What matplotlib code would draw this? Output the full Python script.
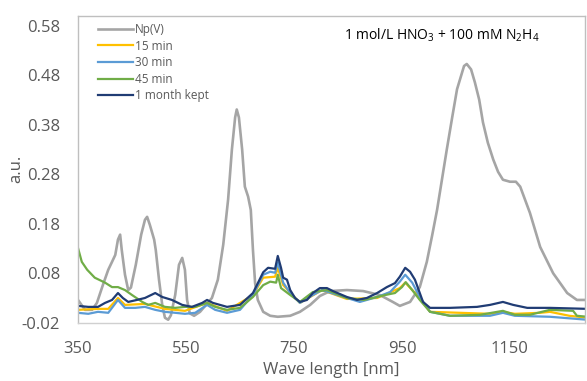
import matplotlib
matplotlib.use("Agg")
import matplotlib.pyplot as plt
from matplotlib.lines import Line2D

# Np(V) reference spectrum
np_wl = [350, 363, 376, 385, 396, 406, 413, 419, 424, 428, 431, 437, 443, 448, 457, 467, 474, 478,
         483, 491, 494, 500, 506, 511, 517, 522, 530, 537, 543, 548, 552, 557, 565, 576, 587, 598,
         609, 619, 628, 635, 641, 644, 648, 654, 659, 665, 670, 674, 678, 683, 693, 706, 720, 743,
         761, 780, 798, 817, 848, 878, 909, 933, 946, 965, 983, 996, 1006, 1015, 1024, 1033, 1043,
         1052, 1065, 1070, 1078, 1085, 1093, 1100, 1109, 1119, 1128, 1137, 1150, 1161, 1169, 1187,
         1206, 1230, 1256, 1274, 1293]
np_abs = [0.026, 0.006, 0.006, 0.020, 0.056, 0.087, 0.103, 0.117, 0.148, 0.158, 0.127, 0.077, 0.046,
          0.051, 0.097, 0.158, 0.188, 0.194, 0.178, 0.148, 0.127, 0.067, 0.016, -0.010, -0.014,
          -0.005, 0.036, 0.097, 0.111, 0.087, 0.026, -0.001, -0.006, 0.002, 0.016, 0.030, 0.067,
          0.138, 0.229, 0.330, 0.395, 0.411, 0.395, 0.330, 0.255, 0.235, 0.208, 0.127, 0.060, 0.026,
          0.002, -0.006, -0.008, -0.006, 0.002, 0.016, 0.034, 0.044, 0.046, 0.044, 0.036, 0.022,
          0.014, 0.022, 0.052, 0.103, 0.157, 0.208, 0.269, 0.330, 0.395, 0.452, 0.499, 0.503, 0.492,
          0.466, 0.431, 0.385, 0.344, 0.310, 0.285, 0.269, 0.265, 0.265, 0.255, 0.202, 0.133, 0.080,
          0.040, 0.026, 0.026]

# 15 min
m15_wl = [350, 387, 406, 424, 437, 474, 511, 548, 589, 626, 674, 693, 715, 720, 730, 761, 802, 848,
          904, 946, 956, 983, 1002, 1113, 1137, 1159, 1206, 1224, 1260, 1293]
m15_abs = [0.006, 0.008, 0.008, 0.030, 0.016, 0.018, 0.008, 0.004, 0.020, 0.004, 0.036, 0.071,
           0.073, 0.091, 0.056, 0.020, 0.046, 0.028, 0.030, 0.050, 0.061, 0.030, 0.002, -0.002,
           0.002, -0.002, 0.000, 0.002, -0.006, -0.010]

# 30 min
m30_wl = [350, 369, 387, 406, 424, 437, 456, 474, 493, 511, 530, 548, 567, 589, 604, 626, 650, 674,
          693, 706, 715, 720, 730, 743, 761, 785, 802, 848, 872, 904, 928, 946, 956, 969, 983, 1002,
          1039, 1113, 1137, 1159, 1224, 1293]
m30_abs = [0.000, -0.002, 0.002, 0.000, 0.026, 0.010, 0.010, 0.012, 0.006, 0.002, 0.000, -0.002,
           0.000, 0.016, 0.006, 0.000, 0.006, 0.036, 0.077, 0.083, 0.081, 0.102, 0.061, 0.040,
           0.020, 0.036, 0.046, 0.030, 0.022, 0.032, 0.042, 0.063, 0.077, 0.061, 0.032, 0.002,
           -0.006, -0.006, 0.000, -0.006, -0.008, -0.014]

# 45 min
m45_wl = [350, 357, 367, 381, 400, 413, 424, 437, 450, 469, 480, 493, 511, 530, 548, 567, 589, 604,
          626, 650, 674, 693, 706, 717, 720, 726, 743, 761, 785, 811, 848, 880, 919, 937, 950, 957,
          969, 983, 1002, 1039, 1095, 1137, 1159, 1187, 1224, 1267, 1274, 1293]
m45_abs = [0.131, 0.103, 0.087, 0.071, 0.061, 0.052, 0.052, 0.046, 0.036, 0.022, 0.016, 0.020,
           0.012, 0.010, 0.012, 0.012, 0.020, 0.012, 0.006, 0.010, 0.032, 0.056, 0.063, 0.061,
           0.077, 0.050, 0.036, 0.022, 0.042, 0.046, 0.030, 0.026, 0.036, 0.040, 0.052, 0.062,
           0.046, 0.026, 0.002, -0.006, -0.004, 0.004, -0.004, -0.004, 0.006, 0.004, -0.006, -0.008]

# 1 month kept
month_wl = [350, 369, 387, 400, 413, 424, 433, 443, 459, 474, 493, 506, 524, 543, 561, 580, 589, 600,
            626, 650, 674, 693, 702, 715, 720, 726, 730, 737, 743, 752, 761, 774, 785, 798, 811, 822,
            848, 867, 885, 904, 922, 937, 946, 956, 965, 974, 983, 989, 1002, 1039, 1089, 1113, 1137,
            1156, 1182, 1224, 1293]
month_abs = [0.014, 0.012, 0.012, 0.020, 0.026, 0.040, 0.030, 0.022, 0.026, 0.030, 0.040, 0.032,
             0.026, 0.016, 0.012, 0.020, 0.026, 0.020, 0.012, 0.016, 0.040, 0.082, 0.091, 0.089,
             0.115, 0.091, 0.071, 0.067, 0.046, 0.030, 0.022, 0.026, 0.040, 0.050, 0.050, 0.044,
             0.032, 0.026, 0.030, 0.040, 0.052, 0.060, 0.073, 0.091, 0.083, 0.067, 0.040, 0.022,
             0.010, 0.010, 0.012, 0.016, 0.022, 0.016, 0.010, 0.010, 0.008]

x_ticks = [350, 550, 750, 950, 1150]
y_ticks = [-0.02, 0.08, 0.18, 0.28, 0.38, 0.48, 0.58]

plt.rcParams['font.family'] = ['Open Sans', 'DejaVu Sans']
plt.rcParams['mathtext.fontset'] = 'custom'
plt.rcParams['mathtext.rm'] = 'Open Sans'

text_gray = '#595959'
series = [
    (np_wl, np_abs, 'Np(V)', '#A5A5A5', 1.9),
    (m15_wl, m15_abs, '15 min', '#FFC000', 1.6),
    (m30_wl, m30_abs, '30 min', '#5B9BD5', 1.6),
    (m45_wl, m45_abs, '45 min', '#70AD47', 1.6),
    (month_wl, month_abs, '1 month kept', '#203C74', 1.6),
]

fig = plt.figure(figsize=(5.87, 3.81), dpi=100)
ax = fig.add_axes([0.1329, 0.153, 0.8637, 0.805])

for wl, ab, name, col, lw in series:
    ax.plot(wl, ab, color=col, lw=lw, label=name, solid_joinstyle='round')

ax.set_xlim(350, 1289)
ax.set_ylim(-0.02, 0.60)
ax.set_xticks(x_ticks)
ax.set_yticks(y_ticks)
ax.set_yticklabels([f'{v:.2f}' for v in y_ticks])
ax.tick_params(length=0, labelsize=12, labelcolor=text_gray)
ax.tick_params(axis='x', pad=13.5)
ax.tick_params(axis='y', pad=13)
for s in ax.spines.values():
    s.set_color('#BFBFBF')
    s.set_linewidth(1.0)
ax.spines['bottom'].set_color('#D0D0D0')

ax.set_xlabel('Wave length [nm]', fontsize=12, color=text_gray, labelpad=3)
ax.set_ylabel('a.u.', fontsize=12, color=text_gray, labelpad=-2)

handles = [Line2D([], [], color=c, lw=lw) for _, _, _, c, lw in series]
leg = ax.legend(handles, [s[2] for s in series], loc='upper left', bbox_to_anchor=(0.025, 1.0),
                frameon=False, fontsize=8.5, handlelength=3.0, handletextpad=0.15,
                labelspacing=0.3, borderaxespad=0.2)
for t in leg.get_texts():
    t.set_color(text_gray)

fig.text(0.753, 0.908, r'1 mol/L HNO$_3$ + 100 mM N$_2$H$_4$', fontsize=10, color='black',
         ha='center', va='center')

fig.savefig('out.png', dpi=100)
